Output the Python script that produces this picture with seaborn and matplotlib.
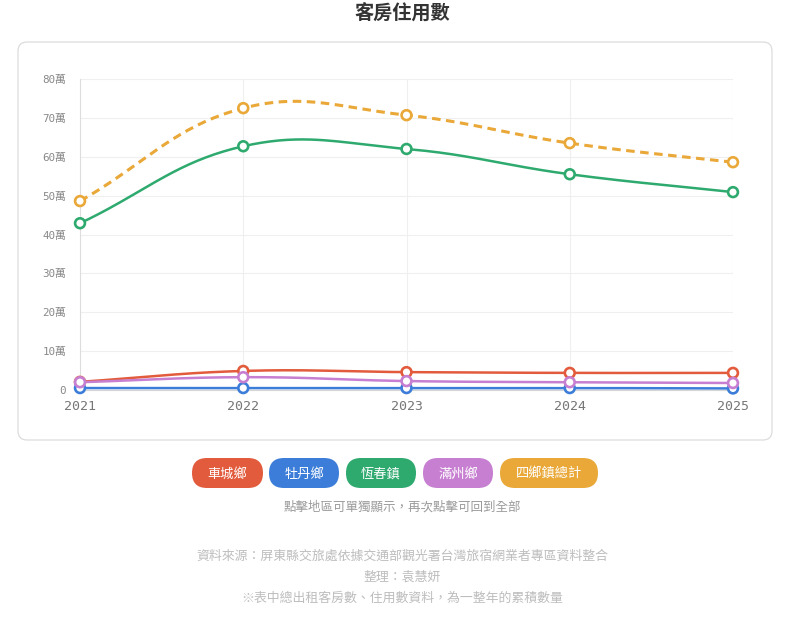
import numpy as np
import pandas as pd
import matplotlib
matplotlib.use('Agg')
import matplotlib.pyplot as plt
from matplotlib.patches import FancyBboxPatch
import seaborn as sns

# --- data (單位: 萬) ---
years = [2021, 2022, 2023, 2024, 2025]
regions = ['車城鄉', '牡丹鄉', '恆春鎮', '滿州鄉', '四鄉鎮總計']
checheng = [2.1, 4.9, 4.6, 4.4, 4.4]
mudan = [0.5, 0.5, 0.5, 0.5, 0.4]
hengchun = [42.9, 62.7, 62.0, 55.5, 50.9]
manzhou = [2.0, 3.3, 2.3, 2.0, 1.8]
total = [48.6, 72.5, 70.7, 63.5, 58.6]
series = [checheng, mudan, hengchun, manzhou, total]
colors = ['#e25b3c', '#3b7dd8', '#2eaa6f', '#c77fd1', '#e9a837']
y_ticks = [0, 10, 20, 30, 40, 50, 60, 70, 80]
y_labels = ['0'] + [f'{v}萬' for v in y_ticks[1:]]

W, H = 805, 619
PX_X = 653 / 4    # pixels per year
PX_Y = 311 / 80   # pixels per 萬


def smooth(xs, ys, t=0.4, n=40):
    """Chart.js style bezier through the points (tension t)."""
    px = np.array(xs, float) * PX_X
    py = np.array(ys, float) * PX_Y
    m = len(px)
    cin, cout = [], []
    for i in range(m):
        a, c = max(i - 1, 0), min(i + 1, m - 1)
        d01 = np.hypot(px[i] - px[a], py[i] - py[a])
        d12 = np.hypot(px[c] - px[i], py[c] - py[i])
        tot = d01 + d12
        s01 = d01 / tot if tot else 0
        s12 = d12 / tot if tot else 0
        dx, dy = px[c] - px[a], py[c] - py[a]
        cin.append((px[i] - t * s01 * dx, py[i] - t * s01 * dy))
        cout.append((px[i] + t * s12 * dx, py[i] + t * s12 * dy))
    out_x, out_y = [], []
    u = np.linspace(0, 1, n)
    for i in range(m - 1):
        p0 = np.array([px[i], py[i]])
        p1 = np.array(cout[i])
        p2 = np.array(cin[i + 1])
        p3 = np.array([px[i + 1], py[i + 1]])
        b = (np.outer((1 - u) ** 3, p0) + np.outer(3 * (1 - u) ** 2 * u, p1)
             + np.outer(3 * (1 - u) * u ** 2, p2) + np.outer(u ** 3, p3))
        out_x.extend(b[:, 0] / PX_X)
        out_y.extend(b[:, 1] / PX_Y)
    return out_x, out_y


rows, pts = [], []
for name, vals in zip(regions, series):
    sx, sy = smooth(years, vals)
    for x, y in zip(sx, sy):
        rows.append({'region': name, 'year': x, 'value': max(y, 0)})
    for x, y in zip(years, vals):
        pts.append({'region': name, 'year': x, 'value': y})
curve_df = pd.DataFrame(rows)
pts_df = pd.DataFrame(pts)
palette = dict(zip(regions, colors))

sns.set_theme(style='white')
plt.rcParams['font.family'] = ['Noto Sans CJK TC', 'DejaVu Sans']
mono = ['DejaVu Sans Mono', 'Noto Sans CJK TC']

fig = plt.figure(figsize=(W / 100, H / 100), dpi=100)

# background / overlay axes in pixel coordinates
bg = fig.add_axes([0, 0, 1, 1], zorder=0)
bg.set_xlim(0, W)
bg.set_ylim(H, 0)
bg.axis('off')
bg.add_patch(FancyBboxPatch((18, 42), 754, 398,
                            boxstyle='round,pad=0,rounding_size=9',
                            facecolor='white', edgecolor='#dcdcdc', lw=0.9))
bg.text(W / 2, 20, '客房住用數', ha='center', va='baseline',
        fontsize=13.8, fontweight='bold', color='#333333')

# legend pills
pill_x = [192, 269, 346, 423, 500]
pill_w = [71, 70, 70, 70, 98]
for name, c, x0, w in zip(regions, colors, pill_x, pill_w):
    bg.add_patch(FancyBboxPatch((x0, 458), w, 30,
                                boxstyle='round,pad=0,rounding_size=15',
                                facecolor=c, edgecolor='none'))
    bg.text(x0 + w / 2, 478, name, ha='center', va='baseline',
            fontsize=9.5, color='white', family='Noto Sans CJK TC')

bg.text(W / 2, 511, '點擊地區可單獨顯示，再次點擊可回到全部',
        ha='center', va='baseline', fontsize=9, color='#9a9a9a')
notes = ['資料來源：屏東縣交旅處依據交通部觀光署台灣旅宿網業者專區資料整合',
         '整理：袁慧妍',
         '※表中總出租客房數、住用數資料，為一整年的累積數量']
for yy, s in zip([560, 581, 602], notes):
    bg.text(W / 2, yy, s, ha='center', va='baseline', fontsize=9.3,
            color='#bdbdbd')

# main plot
ax = fig.add_axes([80 / W, 1 - 390 / H, 653 / W, 311 / H], zorder=1)
ax.set_facecolor('none')

sns.lineplot(data=curve_df[curve_df.region != '四鄉鎮總計'], x='year', y='value',
             hue='region', palette=palette, estimator=None, sort=False,
             lw=1.8, legend=False, ax=ax)
sns.lineplot(data=curve_df[curve_df.region == '四鄉鎮總計'], x='year', y='value',
             color=colors[4], estimator=None, sort=False,
             lw=2.2, legend=False, ax=ax)
for line in ax.lines:
    line.set_clip_on(False)
ax.lines[-1].set_linestyle((0, (2.8, 1.8)))

sns.scatterplot(data=pts_df, x='year', y='value', hue='region', palette=palette,
                s=50, linewidth=1.9, legend=False, ax=ax,
                zorder=5, clip_on=False)
for coll in ax.collections:
    fc = coll.get_facecolors()
    coll.set_edgecolors(fc)
    coll.set_facecolor('white')

ax.set_xlim(2021, 2025)
ax.set_ylim(0, 80)
ax.set_xticks(years)
ax.set_xticklabels([str(y) for y in years], family=mono, fontsize=9.5, color='#777777')
ax.set_yticks(y_ticks)
ax.set_yticklabels(y_labels, family=mono, fontsize=7.8, color='#888888')
ax.tick_params(axis='x', length=0, pad=7)
ax.tick_params(axis='y', length=0, pad=10)
ax.grid(True, color='#efefef', lw=0.8)
ax.set_axisbelow(True)
for s in ['top', 'right']:
    ax.spines[s].set_visible(False)
ax.spines['left'].set_color('#dddddd')
ax.spines['bottom'].set_color('#d5d5d5')
ax.spines['left'].set_linewidth(0.8)
ax.spines['bottom'].set_linewidth(0.8)
ax.set_xlabel('')
ax.set_ylabel('')

fig.savefig('out.png', dpi=100)
